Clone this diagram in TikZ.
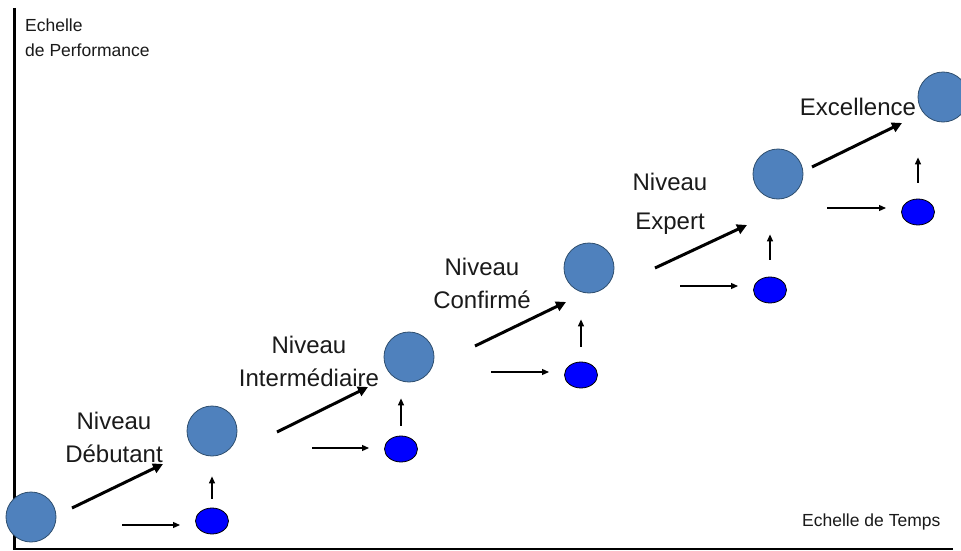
\documentclass[tikz,border=0pt]{standalone}
\usepackage{fontspec}
\setmainfont{Liberation Sans}
\usetikzlibrary{arrows.meta}
\definecolor{bigfill}{HTML}{4F81BD}
\definecolor{bigdraw}{HTML}{2F4F6F}
\definecolor{txt}{HTML}{1A1A1A}
\tikzset{
  bigc/.style={circle, fill=bigfill, draw=bigdraw, line width=0.8pt, minimum size=50pt, inner sep=0pt},
  smalle/.style={ellipse, fill=blue, draw=black, line width=0.8pt, minimum width=33pt, minimum height=26pt, inner sep=0pt},
  thick arrow/.style={line width=3pt, -{Triangle[length=10pt,width=10pt]}},
  thin arrow/.style={line width=1.2pt, -{Triangle[length=7pt,width=6pt]}},
  biglabel/.style={text=txt, font=\fontsize{24}{33}\selectfont, align=center, inner sep=0pt},
  smalllabel/.style={text=txt, font=\fontsize{17.5}{25}\selectfont, inner sep=0pt},
}
\usetikzlibrary{shapes.geometric}
\begin{document}
\begin{tikzpicture}[x=1pt,y=-1pt]
\useasboundingbox (0,0) rectangle (961,551);
\clip (0,0) rectangle (961,551);
\fill[white] (0,0) rectangle (961,551);
% axes
\coordinate (ytop) at (14.5,8);
\coordinate (orig) at (14.5,549);
\coordinate (xend) at (953,549);
\draw[line width=3pt] (ytop) -- (orig);
\draw[line width=1.5pt] (13,549) -- (xend);
% axis labels
\node[smalllabel, anchor=base west] (yl1) at (25,32) {Echelle};
\node[smalllabel, anchor=base west] (yl2) at (25,57) {de Performance};
\node[smalllabel, anchor=base west] (xl) at (802,526) {Echelle de Temps};
% big circles
\node[bigc] (c1) at (31,517) {};
\node[bigc] (c2) at (212,431) {};
\node[bigc] (c3) at (409,357) {};
\node[bigc] (c4) at (589,268) {};
\node[bigc] (c5) at (778,174) {};
\node[bigc] (c6) at (943,97) {};
% small ellipses
\node[smalle] (e1) at (212,521) {};
\node[smalle] (e2) at (401,449) {};
\node[smalle] (e3) at (581,375) {};
\node[smalle] (e4) at (770,290) {};
\node[smalle] (e5) at (918,212) {};
% labels
\node[biglabel] (l1) at (114,437) {Niveau\\Débutant};
\node[biglabel] (l2) at (309,361) {Niveau\\Intermédiaire};
\node[biglabel] (l3) at (482,283) {Niveau\\Confirmé};
\node[biglabel, font=\fontsize{24}{39}\selectfont] (l4) at (670,204) {Niveau\\Expert};
\node[biglabel] (l5) at (858,107) {Excellence};
% thick arrows
\coordinate (t1a) at (72,508);  \coordinate (t1b) at (163,464);
\coordinate (t2a) at (277,432); \coordinate (t2b) at (368,387);
\coordinate (t3a) at (475,346); \coordinate (t3b) at (566,302);
\coordinate (t4a) at (655,268); \coordinate (t4b) at (747,225);
\coordinate (t5a) at (812,167); \coordinate (t5b) at (902,123);
\foreach \i in {1,...,5} {\draw[thick arrow] (t\i a) -- (t\i b);}
% horizontal thin arrows
\coordinate (h1a) at (122,525); \coordinate (h1b) at (180,525);
\coordinate (h2a) at (312,448); \coordinate (h2b) at (369,448);
\coordinate (h3a) at (491,372); \coordinate (h3b) at (549,372);
\coordinate (h4a) at (680,286); \coordinate (h4b) at (738,286);
\coordinate (h5a) at (827,208); \coordinate (h5b) at (886,208);
\foreach \i in {1,...,5} {\draw[thin arrow] (h\i a) -- (h\i b);}
% vertical thin arrows
\draw[thin arrow, shorten <=9pt, shorten >=20pt] (e1.north) -- (e1.north |- c2.south);
\draw[thin arrow, shorten <=10pt, shorten >=16pt] (e2.north) -- (e2.north |- c3.south);
\draw[thin arrow, shorten <=15pt, shorten >=26pt] (e3.north) -- (e3.north |- c4.south);
\draw[thin arrow, shorten <=17pt, shorten >=35pt] (e4.north) -- (e4.north |- c5.south);
\draw[thin arrow, shorten <=16pt, shorten >=35pt] (e5.north) -- (e5.north |- c6.south);
\end{tikzpicture}
\end{document}
